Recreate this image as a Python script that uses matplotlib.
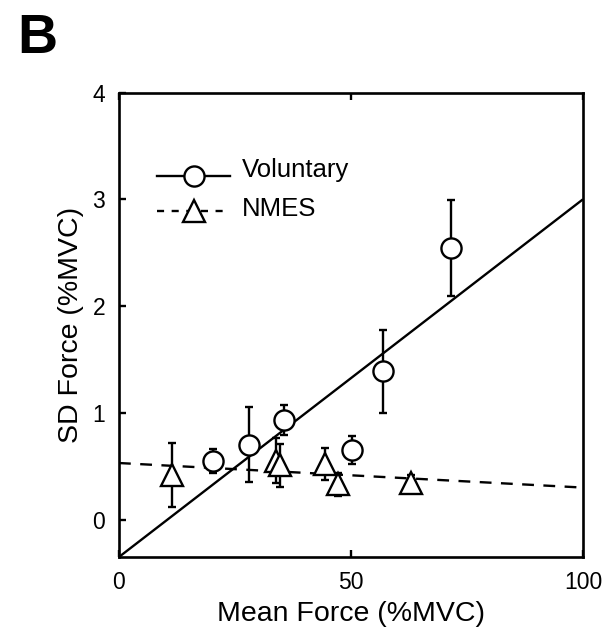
import numpy as np
import matplotlib
matplotlib.use("Agg")
import matplotlib.pyplot as plt

plt.rcParams['font.family'] = ['Liberation Sans', 'DejaVu Sans']

# Voluntary contractions: mean force, SD force, error
vol_x = [20.3, 28.1, 35.6, 50.3, 56.9, 71.5]
vol_y = [0.55, 0.70, 0.93, 0.65, 1.39, 2.54]
vol_err = [0.11, 0.35, 0.14, 0.13, 0.39, 0.45]

# NMES contractions
nmes_x = [11.4, 33.8, 34.6, 44.4, 47.1, 63.0]
nmes_y = [0.42, 0.55, 0.51, 0.52, 0.33, 0.34]
nmes_err = [0.30, 0.21, 0.20, 0.15, 0.11, 0.08]

# regression lines (endpoints at x = 0 and x = 100)
vol_fit = [-0.35, 3.0]
nmes_fit = [0.53, 0.30]
fit_x = [0, 100]

fig = plt.figure(figsize=(6.12, 6.31), dpi=100)
ax = fig.add_axes([0.1944, 0.1173, 0.7582, 0.7361])

ax.plot(fit_x, vol_fit, color='black', lw=1.7, solid_capstyle='butt')
ax.plot(fit_x, nmes_fit, color='black', lw=1.7, ls=(0, (5, 4)))

ax.errorbar(vol_x, vol_y, yerr=vol_err, fmt='o', ms=14.5, mfc='white', mec='black',
            mew=1.7, ecolor='black', elinewidth=1.7, capsize=3, capthick=1.7, zorder=3)
ax.errorbar(nmes_x, nmes_y, yerr=nmes_err, fmt='^', ms=15.5, mfc='white', mec='black',
            mew=1.7, ecolor='black', elinewidth=1.7, capsize=3, capthick=1.7, zorder=3)

# legend drawn by hand
ax.plot([8.3, 24], [3.22, 3.22], color='black', lw=1.7)
ax.plot([16.1], [3.22], 'o', ms=14.5, mfc='white', mec='black', mew=1.7)
ax.text(26.5, 3.27, 'Voluntary', fontsize=18.5, va='center', ha='left')
ax.plot([8.3, 24], [2.89, 2.89], color='black', lw=1.7, ls=(0, (3, 3.2)))
ax.plot([16.1], [2.89], '^', ms=15.5, mfc='white', mec='black', mew=1.7)
ax.text(26.5, 2.91, 'NMES', fontsize=18.5, va='center', ha='left')

ax.set_xlim(0, 100)
ax.set_ylim(-0.35, 4)
ax.set_xticks([0, 50, 100])
ax.set_yticks([0, 1, 2, 3, 4])
ax.tick_params(direction='in', length=5, width=1.7, labelsize=16.5, top=True, pad=10)
for s in ax.spines.values():
    s.set_linewidth(1.9)

ax.set_xlabel('Mean Force (%MVC)', fontsize=20.5, labelpad=5)
ax.set_ylabel('SD Force (%MVC)', fontsize=20.5, labelpad=6)

fig.text(0.028, 0.916, 'B', fontsize=40, fontweight='bold', ha='left', va='baseline')

fig.savefig('out.png', dpi=100)
